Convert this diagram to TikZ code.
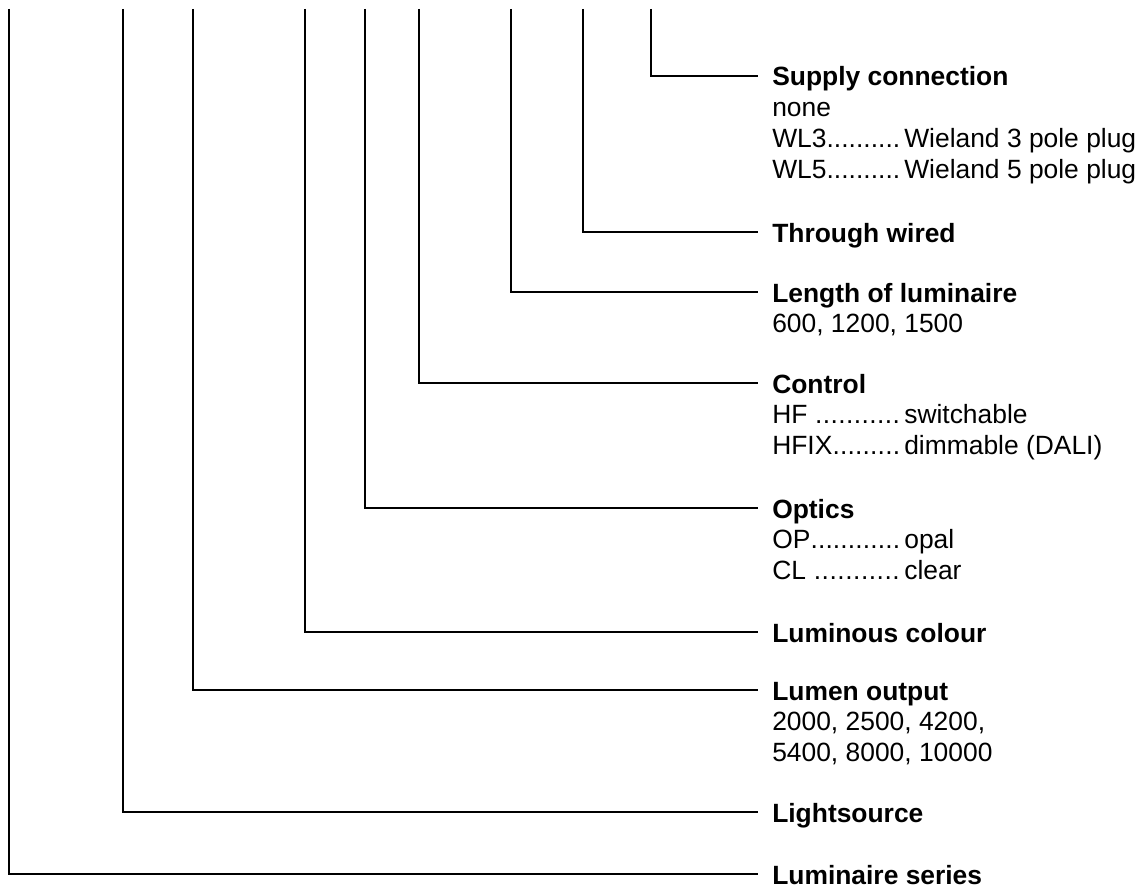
\documentclass[tikz,border=0pt]{standalone}
\usepackage{fontspec}
\setmainfont{Liberation Sans}
\usepackage{tikz}
\usetikzlibrary{
    positioning, % relative placement
    calc % coordinate shifts
}
% code ..... meaning, with the meaning on a common tab
\newcommand{\dotlead}[2]{\makebox[99pt][l]{#1\xleaders\hbox{.}\hfill\hspace{3pt}}#2}

\begin{document}
\begin{tikzpicture}[x=0.75pt, y=-0.75pt]
    % styles
    \tikzstyle{head} = [anchor=west, inner xsep=10.5pt, inner ysep=0pt, text height=15pt,
                        text depth=0pt, font=\fontsize{19.8}{23}\selectfont\bfseries]
    \tikzstyle{opts} = [anchor=base west, inner xsep=10.5pt, inner ysep=0pt,
                        font=\fontsize{19.8}{23}\selectfont]
    \tikzstyle{line} = [draw=black, line width=1.2pt]
    \useasboundingbox (0,0) rectangle (1145,888);
    % tops of the code lines
    \coordinate (t-series)  at (9,9);
    \coordinate (t-source)  at (123,9);
    \coordinate (t-lumen)   at (193,9);
    \coordinate (t-colour)  at (305,9);
    \coordinate (t-optics)  at (365,9);
    \coordinate (t-control) at (419,9);
    \coordinate (t-length)  at (511,9);
    \coordinate (t-wired)   at (583,9);
    \coordinate (t-supply)  at (651,9);
    % headings
    \node[head] (supply)  at (758,76)  {Supply connection};
    \node[head] (wired)   at (758,232) {Through wired};
    \node[head] (length)  at (758,292) {Length of luminaire};
    \node[head] (control) at (758,383) {Control};
    \node[head] (optics)  at (758,508) {Optics};
    \node[head] (colour)  at (758,632) {Luminous colour};
    \node[head] (lumen)   at (758,690) {Lumen output};
    \node[head] (source)  at (758,812) {Lightsource};
    \node[head] (series)  at (758,874) {Luminaire series};
    % options under the headings
    \node[opts] (supply-o) at ($(supply.base west)+(0,30.7)$)
        {\begin{tabular}[t]{@{}l@{}}none\\ \dotlead{WL3}{Wieland 3 pole plug}\\
         \dotlead{WL5}{Wieland 5 pole plug}\end{tabular}};
    \node[opts] (length-o) at ($(length.base west)+(0,30.7)$)
        {\begin{tabular}[t]{@{}l@{}}600, 1200, 1500\end{tabular}};
    \node[opts] (control-o) at ($(control.base west)+(0,30.7)$)
        {\begin{tabular}[t]{@{}l@{}}\dotlead{HF }{switchable}\\
         \dotlead{HFIX}{dimmable (DALI)}\end{tabular}};
    \node[opts] (optics-o) at ($(optics.base west)+(0,30.7)$)
        {\begin{tabular}[t]{@{}l@{}}\dotlead{OP}{opal}\\ \dotlead{CL }{clear}\end{tabular}};
    \node[opts] (lumen-o) at ($(lumen.base west)+(0,30.7)$)
        {\begin{tabular}[t]{@{}l@{}}2000, 2500, 4200,\\ 5400, 8000, 10000\end{tabular}};
    % code lines
    \foreach \n in {series,source,lumen,colour,optics,control,length,wired,supply}
        \draw[line] (t-\n) |- (\n);
\end{tikzpicture}
\end{document}
